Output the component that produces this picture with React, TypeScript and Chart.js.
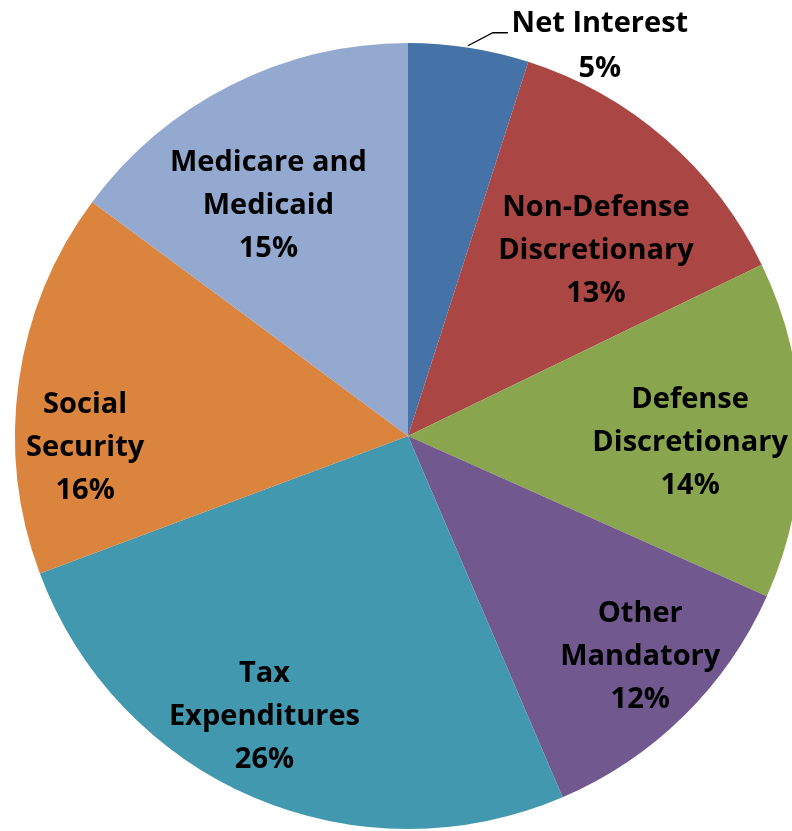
import React, { useEffect, useRef } from "react";
import { Chart, registerables } from "chart.js";

Chart.register(...registerables);

const categories = [
  ["Net Interest"],
  ["Non-Defense", "Discretionary"],
  ["Defense", "Discretionary"],
  ["Other", "Mandatory"],
  ["Tax", "Expenditures"],
  ["Social", "Security"],
  ["Medicare and", "Medicaid"],
];
const values = [5, 13, 14, 12, 26, 16, 15];
const percentLabels = ["5%", "13%", "14%", "12%", "26%", "16%", "15%"];
const colors = ["#4572A7", "#AA4643", "#89A54E", "#71588F", "#4198AF", "#DB843D", "#93A9CF"];

// label placement: [radius fraction, angle shift (deg)]
const labelPlace: [number, number][] = [
  [0, 0],
  [0.674, 4.2],
  [0.718, 2],
  [0.814, -2],
  [0.8, 4],
  [0.822, -10],
  [0.687, -4.4],
];

const labelPlugin = {
  id: "pieLabels",
  afterDatasetsDraw(chart: any) {
    const ctx = chart.ctx;
    const meta = chart.getDatasetMeta(0);
    ctx.save();
    ctx.fillStyle = "#000";
    ctx.font = "bold 29px 'Open Sans'";
    ctx.textAlign = "center";
    ctx.textBaseline = "middle";
    const lh = 43;
    meta.data.forEach((arc: any, i: number) => {
      const { x, y, startAngle, endAngle, outerRadius } = arc.getProps(
        ["x", "y", "startAngle", "endAngle", "outerRadius"],
        true
      );
      const lines = [...categories[i], percentLabels[i]];
      if (i === 0) {
        // outside label with leader line
        const mid = (startAngle + endAngle) / 2;
        const px = x + Math.cos(mid) * outerRadius;
        const py = y + Math.sin(mid) * outerRadius;
        ctx.strokeStyle = "#000";
        ctx.lineWidth = 1.3;
        ctx.beginPath();
        ctx.moveTo(px - 1, py - 2);
        ctx.lineTo(px + 24, py - 15);
        ctx.lineTo(px + 39, py - 15);
        ctx.stroke();
        const cx = px + 131;
        const cy = py - 24;
        ctx.fillText(lines[0], cx, cy);
        ctx.fillText(lines[1], cx, cy + 45);
        return;
      }
      const [rf, shift] = labelPlace[i];
      const mid = (startAngle + endAngle) / 2 + (shift * Math.PI) / 180;
      const cx = x + Math.cos(mid) * outerRadius * rf;
      const cy = y + Math.sin(mid) * outerRadius * rf + 1;
      const n = lines.length;
      lines.forEach((t, k) => {
        ctx.fillText(t, cx, cy + (k - (n - 1) / 2) * lh);
      });
    });
    ctx.restore();
  },
};

export default function App() {
  const ref = useRef<HTMLCanvasElement>(null);
  useEffect(() => {
    if (!ref.current) return;
    const chart = new Chart(ref.current, {
      type: "pie",
      data: {
        labels: categories.map((c) => c.join(" ")),
        datasets: [
          {
            data: values,
            backgroundColor: colors,
            borderWidth: 0,
          },
        ],
      },
      options: {
        animation: false,
        responsive: true,
        maintainAspectRatio: false,
        layout: { padding: { left: 15, right: 9, top: 43, bottom: 2 } },
        plugins: {
          legend: { display: false },
          tooltip: { enabled: false },
        },
      },
      plugins: [labelPlugin],
    });
    return () => chart.destroy();
  }, []);
  return (
    <div
      style={{
        position: "fixed",
        left: 0,
        top: 0,
        width: 792,
        height: 831,
        overflow: "hidden",
        background: "#fff",
      }}
    >
      <div style={{ width: 810, height: 831, position: "relative" }}>
        <canvas ref={ref} />
      </div>
    </div>
  );
}
